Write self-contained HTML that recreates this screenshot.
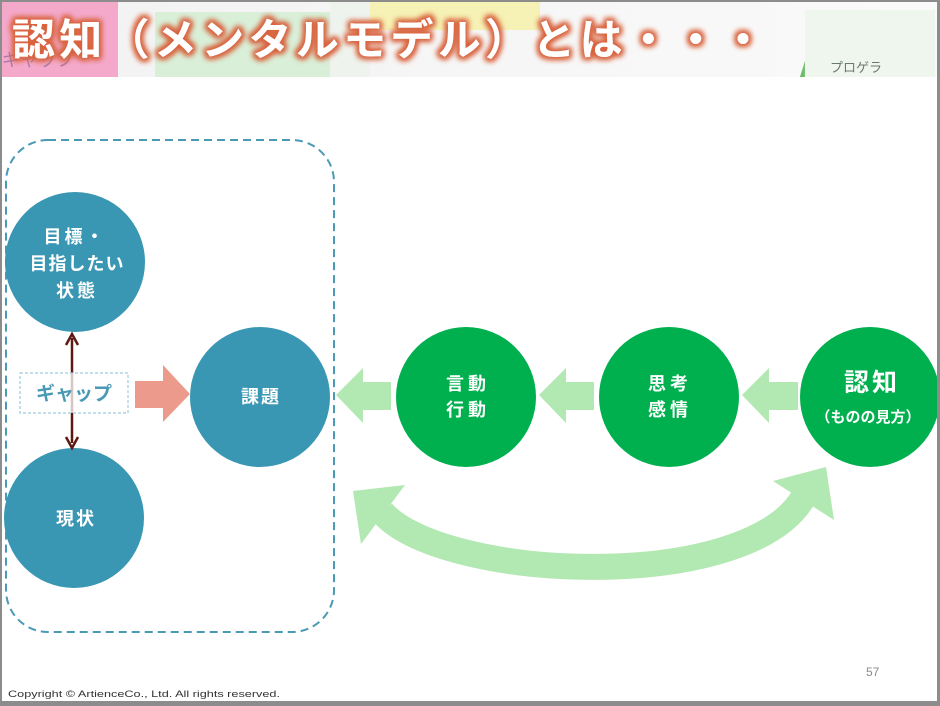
<!DOCTYPE html>
<html><head><meta charset="utf-8"><style>
html,body{margin:0;padding:0;background:#fff;}
body{width:940px;height:706px;overflow:hidden;position:relative;font-family:"Liberation Sans","Noto Sans CJK JP",sans-serif;}
svg{position:absolute;left:0;top:0;}
.t{font-family:"Liberation Sans","Noto Sans CJK JP",sans-serif;}
</style></head><body>
<svg width="940" height="706" viewBox="0 0 940 706" xmlns="http://www.w3.org/2000/svg">
<defs>
<linearGradient id="hdr" x1="0" y1="0" x2="1" y2="0">
<stop offset="0" stop-color="#f2f2f2"/><stop offset="1" stop-color="#fafafa"/>
</linearGradient>
<linearGradient id="tri" x1="0" y1="0" x2="1" y2="0">
<stop offset="0" stop-color="#5cb85c"/><stop offset="1" stop-color="#d8d8d8"/>
</linearGradient>
<filter id="glow" x="-10%" y="-30%" width="120%" height="160%">
<feMorphology in="SourceAlpha" operator="dilate" radius="2" result="d"/>
<feGaussianBlur in="d" stdDeviation="3" result="b"/>
<feFlood flood-color="#d9643f"/>
<feComposite in2="b" operator="in" result="g"/>
<feMerge><feMergeNode in="g"/><feMergeNode in="g"/><feMergeNode in="SourceGraphic"/></feMerge>
</filter>
</defs>
<!-- header background -->
<rect x="0" y="0" width="940" height="77" fill="url(#hdr)"/>
<rect x="0" y="0" width="118" height="77" fill="#f4a9cb"/>
<rect x="155" y="12" width="195" height="65" fill="#d9efd8"/>
<rect x="365" y="0" width="175" height="30" fill="#f6f1b4"/>
<rect x="330" y="0" width="40" height="77" fill="#eef3ee"/>
<polygon points="800,77 820,77 812,38" fill="url(#tri)"/>
<rect x="805" y="10" width="130" height="67" fill="#eef6ee"/>
<text x="830" y="72" font-size="13" fill="#6a7a6a" class="t">プロゲラ</text>
<text x="2" y="66" font-size="18" fill="#6b4a8a" class="t" opacity="0.5">ギャップ</text>
<!-- title -->
<g filter="url(#glow)">
<text x="12" y="55" font-size="43" font-weight="bold" fill="#ffffff" class="t" letter-spacing="4.3">認知（メンタルモデル）とは・・・</text>
</g>
<!-- frame border -->
<rect x="0" y="0" width="2" height="706" fill="#8c8c8c"/>
<rect x="0" y="0" width="940" height="2" fill="#8c8c8c"/>
<rect x="937" y="0" width="3" height="706" fill="#8c8c8c"/>
<rect x="0" y="701" width="940" height="5" fill="#8c8c8c"/>

<!-- dashed group -->
<rect x="6" y="140" width="328" height="492" rx="42" ry="42" fill="none" stroke="#4a9ab5" stroke-width="2" stroke-dasharray="8,5"/>

<!-- teal circles -->
<circle cx="75" cy="262" r="70" fill="#3a97b3"/>
<circle cx="74" cy="518" r="70" fill="#3a97b3"/>
<circle cx="260" cy="397" r="70" fill="#3a97b3"/>

<!-- double arrow brown -->
<line x1="72" y1="338" x2="72" y2="443" stroke="#5e1a12" stroke-width="2.5"/>
<polyline points="66,345 72,334 78,345" fill="none" stroke="#5e1a12" stroke-width="2.5"/>
<polyline points="66,437 72,448 78,437" fill="none" stroke="#5e1a12" stroke-width="2.5"/>

<!-- gap label -->
<rect x="20" y="373" width="108" height="40" fill="#ffffff" fill-opacity="0.75" stroke="#9fcbdb" stroke-width="1.2" stroke-dasharray="3,2"/>
<text x="74" y="400" font-size="19" font-weight="bold" fill="#4a9ab5" text-anchor="middle" class="t">ギャップ</text>

<!-- pink arrow -->
<polygon points="135,381 163,381 163,365 190,394 163,422 163,408 135,408" fill="#ec9a8b"/>

<!-- green circles -->
<circle cx="466" cy="397" r="70" fill="#00b04f"/>
<circle cx="669" cy="397" r="70" fill="#00b04f"/>
<circle cx="870" cy="397" r="70" fill="#00b04f"/>

<!-- green arrows -->
<polygon points="336,395 363,368 363,382 391,382 391,410 363,410 363,423" fill="#b2e8b1"/>
<polygon points="539,395 566,368 566,382 594,382 594,410 566,410 566,423" fill="#b2e8b1"/>
<polygon points="742,395 769,368 769,382 798,382 798,410 769,410 769,423" fill="#b2e8b1"/>

<!-- curved double arrow -->
<path d="M 382 512 C 440 580, 745 595, 803 498" fill="none" stroke="#b2e8b1" stroke-width="26"/>
<polygon points="353,491 405,485 361,544" fill="#b2e8b1"/>
<polygon points="826,467 773,481 834,520" fill="#b2e8b1"/>
<!-- re-cover right border over circle -->
<rect x="937" y="300" width="3" height="200" fill="#8c8c8c"/>

<!-- circle texts -->
<g fill="#ffffff" font-weight="bold" class="t" text-anchor="middle">
<text x="75" y="243" font-size="18" letter-spacing="3">目標・</text>
<text x="77" y="270" font-size="18" letter-spacing="1">目指したい</text>
<text x="77" y="297" font-size="18" letter-spacing="3">状態</text>
<text x="76" y="525" font-size="18" letter-spacing="2">現状</text>
<text x="261" y="403" font-size="18" letter-spacing="2">課題</text>
<text x="468" y="390" font-size="18" letter-spacing="4">言動</text>
<text x="468" y="416" font-size="18" letter-spacing="4">行動</text>
<text x="670" y="390" font-size="18" letter-spacing="4">思考</text>
<text x="670" y="416" font-size="18" letter-spacing="4">感情</text>
<text x="872" y="391" font-size="25" letter-spacing="3">認知</text>
<text x="868" y="422" font-size="15">（ものの見方）</text>
</g>

<!-- footer -->
<text x="866" y="676" font-size="12" fill="#8a8a8a" class="t">57</text>
<text x="8" y="697" font-size="9.5" fill="#333333" class="t" textLength="272" lengthAdjust="spacingAndGlyphs">Copyright © ArtienceCo., Ltd. All rights reserved.</text>
</svg>
</body></html>
